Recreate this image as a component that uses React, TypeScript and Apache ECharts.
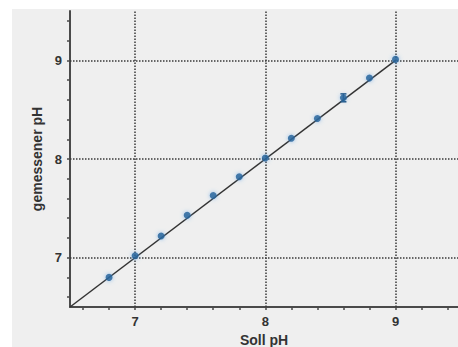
import React, { useEffect, useRef } from "react";
import * as echarts from "echarts";

const sollPH = [6.8, 7.0, 7.2, 7.4, 7.6, 7.8, 8.0, 8.2, 8.4, 8.6, 8.8, 9.0];
const gemessenPH = [6.8, 7.02, 7.22, 7.43, 7.63, 7.82, 8.01, 8.21, 8.41, 8.62, 8.82, 9.01];
const errX = [8.6];
const errLow = [8.58];
const errHigh = [8.66];
const identityLine = [
  [6.5, 6.5],
  [9.0, 9.0],
];
const majorTicks = [7, 8, 9];
const minorTicksX = [6.6, 6.8, 7.0, 7.2, 7.4, 7.6, 7.8, 8.0, 8.2, 8.4, 8.6, 8.8, 9.0, 9.2, 9.4];
const minorTicksY = [6.6, 6.8, 7.0, 7.2, 7.4, 7.6, 7.8, 8.0, 8.2, 8.4, 8.6, 8.8, 9.0, 9.2, 9.4];

const FONT = "'Liberation Sans', Arial, sans-serif";
const TEXT = "#333333";
const AXIS = "#4a4a4a";

export default function App() {
  const ref = useRef<HTMLDivElement>(null);
  useEffect(() => {
    if (!ref.current) return;
    const chart = echarts.init(ref.current, undefined, { renderer: "svg" });
    const points = sollPH.map((x, i) => [x, gemessenPH[i]]);
    const errData = errX.map((x, i) => [x, errLow[i], errHigh[i]]);
    const axisCommon = {
      type: "value" as const,
      min: 6.5,
      axisLine: { show: true, lineStyle: { color: AXIS, width: 2 } },
      axisTick: { show: true, length: 3, lineStyle: { color: AXIS, width: 1.5 } },
      axisLabel: {
        customValues: majorTicks,
        color: TEXT,
        fontFamily: FONT,
        fontWeight: "bold" as const,
        fontSize: 13,
        margin: 8,
      },
      splitLine: { show: false },
      nameLocation: "middle" as const,
      nameTextStyle: { color: TEXT, fontFamily: FONT, fontWeight: "bold" as const, fontSize: 14 },
    };
    chart.setOption({
      animation: false,
      backgroundColor: "#ffffff",
      graphic: [
        {
          type: "rect",
          z: -100,
          silent: true,
          shape: { x: 12, y: 9, width: 446, height: 338 },
          style: { fill: "#efefef" },
        },
      ],
      grid: { left: 70, top: 11, right: 0, bottom: 40, outerBoundsMode: "none" },
      xAxis: {
        ...axisCommon,
        max: 9.48,
        name: "Soll pH",
        nameGap: 24,
        axisTick: { ...axisCommon.axisTick, customValues: minorTicksX },
      },
      yAxis: {
        ...axisCommon,
        max: 9.5,
        name: "gemessener pH",
        nameGap: 25,
        axisTick: { ...axisCommon.axisTick, customValues: minorTicksY },
      },
      series: [
        {
          type: "line",
          data: identityLine,
          showSymbol: false,
          symbol: "none",
          z: 2,
          lineStyle: { color: "#333333", width: 1.5 },
          markLine: {
            silent: true,
            symbol: "none",
            label: { show: false },
            lineStyle: { type: [1.5, 1.5], color: "#3a3a3a", width: 1.5 },
            data: [
              ...majorTicks.map((v) => ({ xAxis: v })),
              ...majorTicks.map((v) => ({ yAxis: v })),
            ],
          },
        },
        {
          type: "custom",
          z: 4,
          data: errData,
          renderItem: (params: any, api: any) => {
            const x = api.value(0);
            const lo = api.coord([x, api.value(1)]);
            const hi = api.coord([x, api.value(2)]);
            const style = { stroke: "#1d4f7c", lineWidth: 1.5 };
            return {
              type: "group",
              children: [
                { type: "line", shape: { x1: lo[0], y1: lo[1], x2: hi[0], y2: hi[1] }, style },
                { type: "line", shape: { x1: lo[0] - 3, y1: lo[1], x2: lo[0] + 3, y2: lo[1] }, style },
                { type: "line", shape: { x1: hi[0] - 3, y1: hi[1], x2: hi[0] + 3, y2: hi[1] }, style },
              ],
            };
          },
        },
        {
          type: "scatter",
          data: points,
          symbol: "circle",
          symbolSize: 7,
          z: 5,
          itemStyle: {
            color: "#1f5f96",
            shadowBlur: 4,
            shadowColor: "rgba(90,160,230,0.8)",
          },
        },
      ],
    });
    return () => chart.dispose();
  }, []);
  return (
    <div
      ref={ref}
      style={{ position: "absolute", left: 0, top: 0, width: 458, height: 347 }}
    />
  );
}
